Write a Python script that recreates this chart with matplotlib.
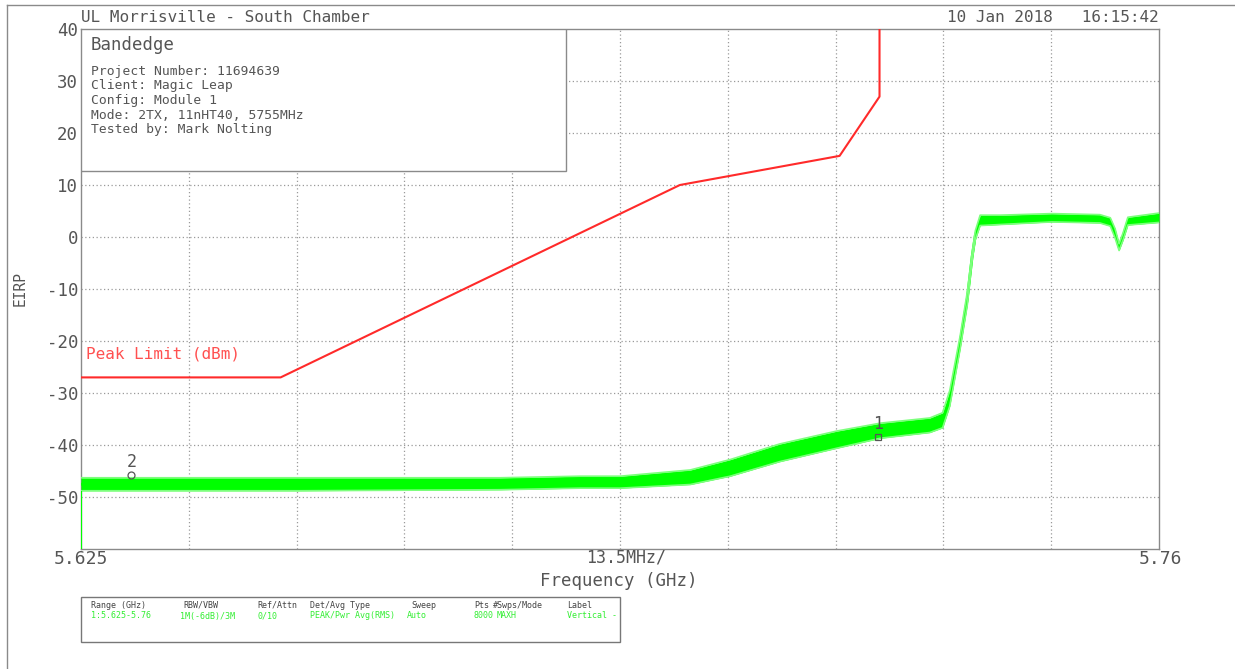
import numpy as np
import matplotlib
matplotlib.use('Agg')
import matplotlib.pyplot as plt
from matplotlib.patches import Rectangle

plt.rcParams['font.family'] = ['DejaVu Sans Mono']

# ─── data ───
f_start, f_stop = 5.625, 5.76          # GHz
y_min, y_max = -60, 40                 # dB
y_ticks = [40, 30, 20, 10, 0, -10, -20, -30, -40, -50]

# peak limit mask (dBm)
limit_f = [5.625, 5.650, 5.700, 5.720, 5.725, 5.725]
limit_db = [-27, -27, 10, 15.6, 27, 45]

# max-hold trace envelope (GHz, lower, upper)
trace_f = [5.6250, 5.6524, 5.6775, 5.6875, 5.6925, 5.7013, 5.7063, 5.7125,
           5.7197, 5.7251, 5.7313, 5.7329, 5.7338, 5.7351, 5.7360, 5.7366,
           5.7370, 5.7376, 5.7401, 5.7466, 5.7526, 5.7539, 5.7545, 5.7550,
           5.7555, 5.7561, 5.7600]
trace_lo = [-48.8, -48.8, -48.6, -48.3, -48.3, -47.6, -46.0, -43.2,
            -40.6, -38.7, -37.6, -36.7, -32.5, -21.5, -13.0, -4.5,
            -0.5, 2.2, 2.4, 2.9, 2.7, 2.1, -0.2, -2.6,
            -0.6, 2.3, 2.8]
trace_hi = [-46.3, -46.3, -46.3, -46.0, -46.0, -44.8, -42.8, -39.8,
            -37.3, -35.8, -34.8, -33.8, -29.5, -19.0, -10.5, -3.0,
            1.2, 4.2, 4.2, 4.5, 4.3, 3.7, 1.6, -1.3,
            0.8, 3.8, 4.6]

# markers
marker_f = [5.7248, 5.6313]
marker_db = [-38.5, -45.8]
marker_lbl = ['1', '2']
marker_sym = ['s', 'o']

info_lines = ['Project Number: 11694639', 'Client: Magic Leap',
              'Config: Module 1', 'Mode: 2TX, 11nHT40, 5755MHz',
              'Tested by: Mark Nolting']

tbl_head = ['Range (GHz)', 'RBW/VBW', 'Ref/Attn', 'Det/Avg Type', 'Sweep',
            'Pts', '#Swps/Mode', 'Label']
tbl_vals = ['1:5.625-5.76', '1M(-6dB)/3M', '0/10', 'PEAK/Pwr Avg(RMS)', 'Auto',
            '8000', 'MAXH', 'Vertical -']
tbl_x = [91, 183, 257, 310, 411, 474, 493, 567]
tbl_vx = [91, 180, 257, 310, 407, 473, 497, 567]

W, H = 1235, 669
GREEN = '#00ff00'
TXT = '#555555'

fig = plt.figure(figsize=(W / 100, H / 100), dpi=100)
fig.patch.set_facecolor('white')
ax = fig.add_axes([81 / W, 1 - 549 / H, (1159 - 81) / W, 520 / H])

# grid
for xv in np.linspace(f_start, f_stop, 11)[1:-1]:
    ax.axvline(xv, color='#9a9a9a', lw=0.9, ls=(0, (1, 2)), zorder=1)
for yv in y_ticks[1:]:
    ax.axhline(yv, color='#9a9a9a', lw=0.9, ls=(0, (1, 2)), zorder=1)

# limit
ax.plot(limit_f, limit_db, color='#ff2a2a', lw=1.5, zorder=3)
ax.text(5.6256, -22.5, 'Peak Limit (dBm)', color='#ff5050', fontsize=11.5,
        va='center', ha='left', zorder=4)

# trace
tf = np.array(trace_f)
lo = np.array(trace_lo)
hi = np.array(trace_hi)
ax.fill_between(tf, lo, hi, color=GREEN, lw=0, zorder=3)
ax.plot(tf, (lo + hi) / 2, color=GREEN, lw=2.0, zorder=3)
ax.plot(tf, hi, color='#7dff7d', lw=1.2, zorder=3)
ax.plot(tf, lo, color='#7dff7d', lw=1.2, zorder=3)
ax.vlines(tf[0], y_min, lo[0], color=GREEN, lw=1.5, zorder=3)

for mf, md, ml, ms in zip(marker_f, marker_db, marker_lbl, marker_sym):
    ax.plot(mf, md, marker=ms, ms=5, mfc='none', mec=TXT, mew=0.9, zorder=5)
    ax.text(mf, md + 2.5, ml, color=TXT, fontsize=12, ha='center',
            va='center', zorder=5)

ax.set_xlim(f_start, f_stop)
ax.set_ylim(y_min, y_max)
ax.set_yticks(y_ticks)
ax.set_yticklabels([str(v) for v in y_ticks], color=TXT, fontsize=12.5)
ax.set_xticks([])
ax.tick_params(axis='y', length=0, pad=2)
for s in ax.spines.values():
    s.set_color('#8a8a8a')
    s.set_linewidth(1.0)
ax.set_ylabel('EIRP', color=TXT, fontsize=10.5, labelpad=14)

# info box
ax.add_patch(Rectangle((0, 1 - 142 / 520), 485 / 1078, 142 / 520,
                       transform=ax.transAxes, facecolor='white',
                       edgecolor='#8a8a8a', lw=1.0, zorder=6))
fig.text(91 / W, 1 - 45 / H, 'Bandedge', color=TXT, fontsize=12.5,
         va='center', ha='left', zorder=7)
for i, line in enumerate(info_lines):
    fig.text(91 / W, 1 - (71 + i * 14.7) / H, line, color=TXT,
             fontsize=9.4, va='center', ha='left', zorder=7)

# header
fig.text(81 / W, 1 - 17 / H, 'UL Morrisville - South Chamber', color=TXT,
         fontsize=11.5, va='center', ha='left')
fig.text(1159 / W, 1 - 17 / H, '10 Jan 2018   16:15:42', color=TXT,
         fontsize=11.5, va='center', ha='right')

# x annotations
fig.text(81 / W, 1 - 559 / H, '5.625', color=TXT, fontsize=13,
         va='center', ha='center')
fig.text(1160 / W, 1 - 559 / H, '5.76', color=TXT, fontsize=13,
         va='center', ha='center')
fig.text(626 / W, 1 - 558 / H, '13.5MHz/', color=TXT, fontsize=12,
         va='center', ha='center')
fig.text(619 / W, 1 - 581 / H, 'Frequency (GHz)', color=TXT,
         fontsize=12.5, va='center', ha='center')

# outer border
fig.add_artist(plt.Line2D([7 / W, 7 / W], [0, 1 - 5 / H], color='#8a8a8a',
                          lw=1.0, transform=fig.transFigure))
fig.add_artist(plt.Line2D([7 / W, 1], [1 - 5 / H, 1 - 5 / H], color='#8a8a8a',
                          lw=1.0, transform=fig.transFigure))

# settings table
fig.add_artist(Rectangle((81 / W, 1 - 642 / H), 539 / W, 45 / H,
                         transform=fig.transFigure, facecolor='white',
                         edgecolor='#777777', lw=1.0))
for x, t in zip(tbl_x, tbl_head):
    fig.text(x / W, 1 - 605 / H, t, color='#444444', fontsize=6.0,
             va='center', ha='left')
for x, t in zip(tbl_vx, tbl_vals):
    fig.text(x / W, 1 - 616 / H, t, color='#33ee33', fontsize=6.0,
             va='center', ha='left')

fig.savefig('out.png', dpi=100)
